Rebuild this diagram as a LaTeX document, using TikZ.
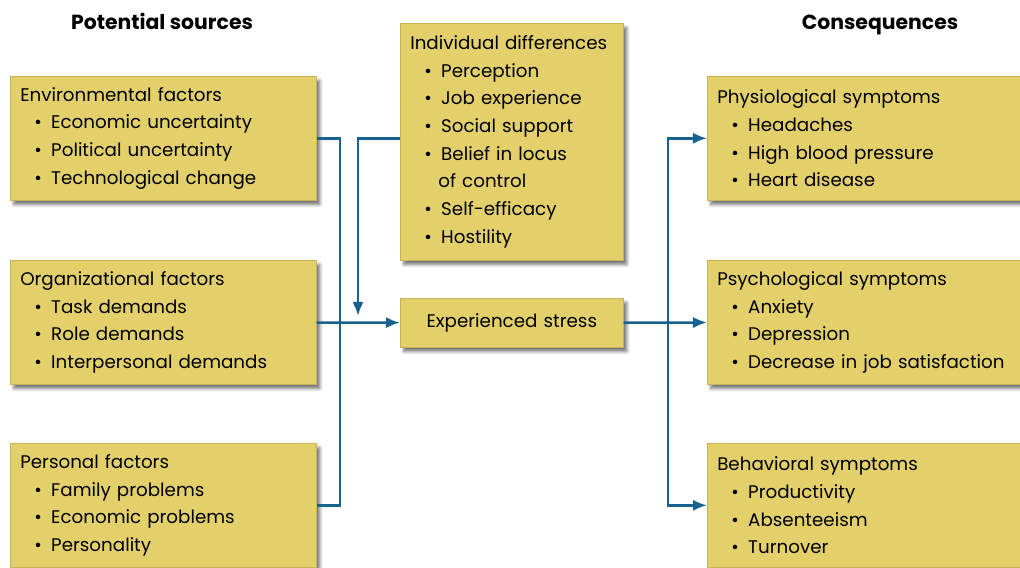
\documentclass[tikz,border=0pt]{standalone}
\usepackage{fontspec}
\setmainfont{Poppins}
\usepackage{xcolor}
\usepackage{tikz}
\usetikzlibrary{arrows.meta, positioning, shadows.blur}

\definecolor{boxfill}{RGB}{228,208,106}
\definecolor{boxedge}{RGB}{200,180,88}
\definecolor{linkblue}{RGB}{24,98,142}
\newcommand{\itm}[1]{\\\hspace*{10pt}\makebox[12pt][l]{\textbullet}#1}

\begin{document}
\begin{tikzpicture}[
    x=0.025cm, y=-0.025cm,
    box/.style={rectangle, draw=boxedge, fill=boxfill, anchor=north west, align=left, inner xsep=0.25cm, inner ysep=0pt, blur shadow={shadow xshift=2.5pt, shadow yshift=-3pt, shadow blur steps=6, shadow opacity=55}, font=\fontsize{13}{19.7}\selectfont},
    factor/.style={box, minimum width=7.65cm, minimum height=3.1cm, text width=7.15cm},
    moderator/.style={box, minimum width=5.575cm, text width=5.075cm},
    outcome/.style={box, minimum width=7.825cm, minimum height=3.1cm, text width=7.325cm},
    heading/.style={anchor=base, font=\fontsize{14.5}{16}\selectfont\bfseries},
    arrow/.style={-{Latex[length=10pt, width=8pt]}, line width=1.8pt, draw=linkblue},
    link/.style={line width=1.8pt, draw=linkblue}
  ]
    \useasboundingbox (0,0) rectangle (1020,567);

    % Headings
    \node[heading] (srchead) at (162,29) {Potential sources};
    \node[heading] (conhead) at (880,29) {Consequences};

    % Potential sources
    \node[factor] (env) at (10,76) {Environmental factors\itm{Economic uncertainty}\itm{Political uncertainty}\itm{Technological change}};
    \node[factor] (org) at (10,260) {Organizational factors\itm{Task demands}\itm{Role demands}\itm{Interpersonal demands}};
    \node[factor] (pers) at (10,443) {Personal factors\itm{Family problems}\itm{Economic problems}\itm{Personality}};

    % Individual differences and stress
    \node[moderator, minimum height=5.925cm] (indiv) at (400,23) {Individual differences\itm{Perception}\itm{Job experience}\itm{Social support}\itm{Belief in locus}\\\hspace*{20pt}of control\itm{Self-efficacy}\itm{Hostility}};
    \node[moderator, minimum height=1.225cm, align=center] (stress) at (400,298) {Experienced stress};

    % Consequences
    \node[outcome] (physio) at (707,76) {Physiological symptoms\itm{Headaches}\itm{High blood pressure}\itm{Heart disease}};
    \node[outcome] (psych) at (707,260) {Psychological symptoms\itm{Anxiety}\itm{Depression}\itm{Decrease in job satisfaction}};
    \node[outcome] (behav) at (707,443) {Behavioral symptoms\itm{Productivity}\itm{Absenteeism}\itm{Turnover}};

    % Bus points
    \coordinate (lbus) at (340,322);
    \coordinate (mod) at (358,316);
    \coordinate (rbus) at (668,322);

    % Arrows - sources to stress
    \draw[link] (env.east) -| (lbus) |- (pers.east);
    \draw[arrow] (org) -- (stress);
    \draw[arrow] (indiv.west |- env.east) -| (mod);

    % Arrows - stress to consequences
    \draw[arrow] (stress) -- (psych);
    \draw[arrow] (rbus) |- (physio.west);
    \draw[arrow] (rbus) |- (behav.west);

  \end{tikzpicture}
\end{document}
